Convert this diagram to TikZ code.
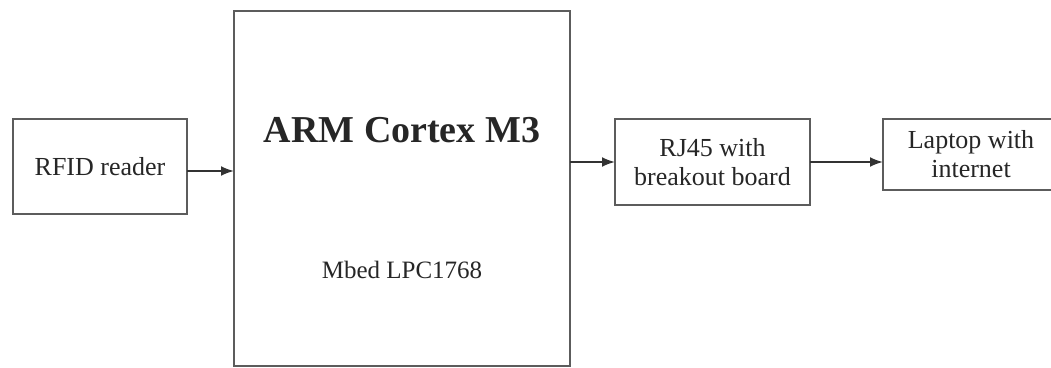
\documentclass[tikz,border=0pt]{standalone}
\usepackage{fontspec}
\setmainfont{Liberation Serif}
\usepackage{xcolor}
\usetikzlibrary{arrows.meta,positioning}
\definecolor{boxgray}{HTML}{5C5C5C}

\begin{document}
\begin{tikzpicture}[x=1pt,y=1pt,>={Latex[length=13pt,width=10pt]},
  block/.style={draw=boxgray,line width=2.2pt,outer sep=0pt,align=center,
    font=\fontsize{26}{29}\selectfont,text=black!85},
  link/.style={->,draw=black!80,line width=2pt}]
\useasboundingbox (0,0) rectangle (1051,367);
\node[block,minimum width=336pt,minimum height=355pt] (arm) at (402,178.5) {};
\node[font=\bfseries\fontsize{38}{40}\selectfont,text=black!85] (armname) at ([yshift=-119pt]arm.north) {ARM Cortex M3};
\node[font=\fontsize{25}{28}\selectfont,text=black!85] (mbed) at ([yshift=-259pt]arm.north) {Mbed LPC1768};
\node[block,minimum width=174pt,minimum height=95pt,below left=108pt and 47pt of arm.north west] (rfid) {RFID reader};
\node[block,minimum width=195pt,minimum height=86pt,below right=108pt and 45pt of arm.north east] (rj45) {RJ45 with\\breakout board};
\node[block,minimum width=176pt,minimum height=71pt,below right=0pt and 73pt of rj45.north east] (laptop) {Laptop with\\internet};
\draw[link] ([yshift=-4.5pt]rfid.east) -- ([yshift=-4.5pt]rfid.east -| arm.west);
\draw[link] (rj45.west -| arm.east) -- (rj45.west);
\draw[link] (rj45.east) -- (rj45.east -| laptop.west);
\end{tikzpicture}
\end{document}
